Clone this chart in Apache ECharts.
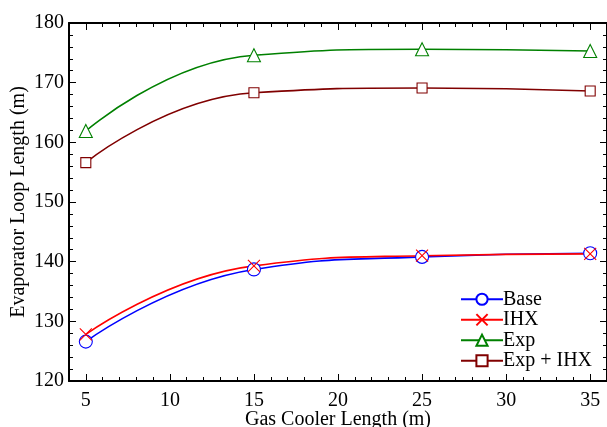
<!DOCTYPE html>
<html>
<head>
<meta charset="utf-8">
<script src="https://cdn.jsdelivr.net/npm/echarts@6/dist/echarts.min.js"></script>
<style>
html,body{margin:0;padding:0;background:#fff;}
#c{width:607px;height:427px;}
</style>
</head>
<body>
<div id="c"></div>
<script>
var xValues = [5, 15, 25, 35];
var baseVals = [126.6, 138.7, 140.8, 141.4];
var ihxVals = [127.8, 139.3, 141.0, 141.3];
var expVals = [161.9, 174.6, 175.6, 175.3];
var expIhxVals = [156.6, 168.3, 169.1, 168.6];
var xTickLabels = [5, 10, 15, 20, 25, 30, 35];
var xMinorTicks = [];
for (var i = 4; i <= 36; i++) { if (i % 5 !== 0) xMinorTicks.push(i); }

var FONT = 'Liberation Serif';
function pairs(vals) { return xValues.map(function (x, i) { return [x, vals[i]]; }); }

var chart = echarts.init(document.getElementById('c'));
var xCommon = { type: 'value', min: 4, max: 36, splitLine: { show: false } };
function xAx(pos, major) {
  return Object.assign({}, xCommon, {
    position: pos,
    axisLine: { show: major, lineStyle: { color: '#000', width: 2 } },
    axisTick: { show: true, inside: true, length: major ? 7 : 4,
      customValues: major ? xTickLabels : xMinorTicks,
      lineStyle: { color: '#000', width: 1 } },
    axisLabel: { show: major && pos === 'bottom', customValues: xTickLabels,
      fontFamily: FONT, fontSize: 20, color: '#000', margin: 10 },
    name: (major && pos === 'bottom') ? 'Gas Cooler Length (m)' : '',
    nameLocation: 'middle', nameGap: 29, nameMoveOverlap: false,
    nameTextStyle: { fontFamily: FONT, fontSize: 20, color: '#000' }
  });
}
function yAx(pos) {
  return {
    type: 'value', min: 120, max: 180, interval: 10, position: pos,
    splitLine: { show: false },
    axisLine: { show: true, lineStyle: { color: '#000', width: 2 } },
    axisTick: { show: true, inside: true, length: 7, lineStyle: { color: '#000' } },
    minorTick: { show: true, splitNumber: 5, length: 4, lineStyle: { color: '#000' } },
    minorSplitLine: { show: false },
    axisLabel: { show: pos === 'left', fontFamily: FONT, fontSize: 20, color: '#000', margin: 5 },
    name: pos === 'left' ? 'Evaporator Loop Length (m)' : '',
    nameLocation: 'middle', nameGap: 40, nameMoveOverlap: false,
    nameTextStyle: { fontFamily: FONT, fontSize: 20, color: '#000' }
  };
}
function ser(name, vals, color, symbol, size, fill) {
  return {
    name: name, type: 'line', xAxisIndex: 0, yAxisIndex: 0,
    data: pairs(vals), smooth: 0.5,
    symbol: symbol, symbolSize: size, showSymbol: true,
    lineStyle: { color: color, width: 1.6 },
    itemStyle: { color: fill, borderColor: color, borderWidth: 1.1 },
    z: 3
  };
}
var crossPath = 'path://M0,0L10,10M10,0L0,10';
chart.setOption({
  animation: false,
  grid: { left: 69, right: 0, top: 23, bottom: 46, containLabel: false, outerBoundsMode: 'none' },
  xAxis: [xAx('bottom', true), xAx('bottom', false), xAx('top', true), xAx('top', false)],
  yAxis: [yAx('left'), yAx('right')],
  legend: {
    orient: 'vertical', left: 455, top: 284, itemGap: 0,
    itemWidth: 42, itemHeight: 14,
    textStyle: { fontFamily: FONT, fontSize: 20, color: '#000', padding: [0, 0, 0, -5], lineHeight: 20.5 },
    data: ['Base', 'IHX', 'Exp', 'Exp + IHX']
  },
  series: [
    ser('Base', baseVals, '#0000ff', 'circle', 13, '#fff'),
    ser('IHX', ihxVals, '#ff0000', crossPath, 12, 'none'),
    ser('Exp', expVals, '#008000', 'triangle', 13, '#fff'),
    ser('Exp + IHX', expIhxVals, '#800000', 'rect', 10, '#fff')
  ]
});
</script>
</body>
</html>
